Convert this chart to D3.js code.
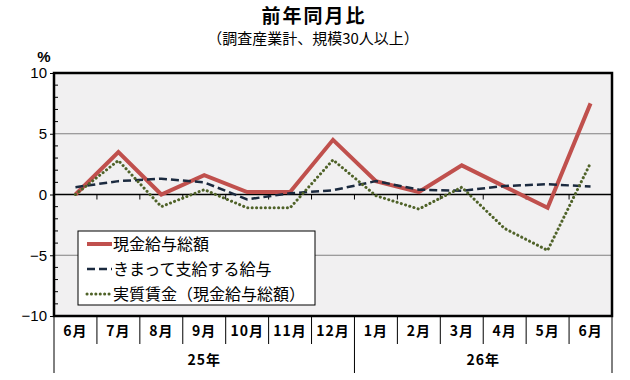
<!DOCTYPE html>
<html>
<head>
<meta charset="utf-8">
<script src="https://cdn.jsdelivr.net/npm/d3@7"></script>
<style>
  body { margin: 0; background: #fff; }
  text { font-family: "Noto Sans CJK JP", "Liberation Sans", sans-serif; }
</style>
</head>
<body>
<div id="container"></div>
<script>
// months (25年6月 .. 26年6月)
var months = ['6月', '7月', '8月', '9月', '10月', '11月', '12月', '1月', '2月', '3月', '4月', '5月', '6月'];
var years = [{ label: '25年', from: 0, to: 7 }, { label: '26年', from: 7, to: 13 }];
var totalPay = [0, 3.5, 0, 1.6, 0.2, 0.2, 4.5, 1.1, 0.2, 2.4, 0.65, -1.1, 7.5];
var regularPay = [0.6, 1.1, 1.3, 1.0, -0.4, 0.1, 0.35, 1.1, 0.4, 0.3, 0.7, 0.85, 0.65];
var realWage = [0, 2.8, -1.0, 0.4, -1.1, -1.1, 2.85, -0.1, -1.2, 0.6, -2.8, -4.6, 2.6];
var yTicks = [10, 5, 0, -5, -10];

var series = [
  { name: '現金給与総額', values: totalPay, color: '#c0504d', width: 4, dash: null },
  { name: 'きまって支給する給与', values: regularPay, color: '#1b2a3f', width: 2.5, dash: '8,4' },
  { name: '実質賃金（現金給与総額）', values: realWage, color: '#4f6228', width: 3, dash: '0.1,4.3' }
];

var W = 630, H = 380;
var pLeft = 54, pRight = 612, pTop = 73, pBottom = 316;

var svg = d3.select('#container').append('svg')
  .attr('width', W).attr('height', H);

var x = d3.scaleBand().domain(d3.range(months.length)).range([pLeft, pRight]);
var y = d3.scaleLinear().domain([-10, 10]).range([pBottom, pTop]);

// title
svg.append('text').attr('x', 314).attr('y', 23).attr('text-anchor', 'middle')
  .style('font-size', '19px').style('font-weight', 'bold').style('letter-spacing', '2px')
  .text('前年同月比');
svg.append('text').attr('x', 313).attr('y', 44).attr('text-anchor', 'middle')
  .style('font-size', '15px').text('（調査産業計、規模30人以上）');

// plot background
svg.append('rect').attr('x', pLeft).attr('y', pTop)
  .attr('width', pRight - pLeft).attr('height', pBottom - pTop)
  .attr('fill', '#f1f0f1');

// gridlines at ±5
svg.selectAll('.grid').data([5, -5]).enter().append('line')
  .attr('x1', pLeft).attr('x2', pRight)
  .attr('y1', function (d) { return y(d); }).attr('y2', function (d) { return y(d); })
  .attr('stroke', '#808080').attr('stroke-width', 1);

// minor ticks (inside)
svg.selectAll('.minor').data(d3.range(-10, 11).filter(function (d) { return d % 5; }))
  .enter().append('line')
  .attr('x1', pLeft).attr('x2', pLeft + 4)
  .attr('y1', function (d) { return y(d); }).attr('y2', function (d) { return y(d); })
  .attr('stroke', '#000').attr('stroke-width', 1);

// y axis labels
var yAxis = d3.axisLeft(y).tickValues(yTicks).tickSize(4).tickFormat(function (d) { return d < 0 ? '−' + (-d) : d; });
var ya = svg.append('g').attr('transform', 'translate(' + pLeft + ',0)').call(yAxis);
ya.select('.domain').remove();
ya.selectAll('line').attr('stroke', '#000');
ya.selectAll('text').attr('x', -7).style('font-size', '15px')
  .style('font-family', '"Liberation Sans", sans-serif').attr('fill', '#000');
svg.append('text').attr('x', 44).attr('y', 62).attr('text-anchor', 'middle')
  .style('font-size', '15px').style('font-weight', 'bold')
  .style('font-family', '"Liberation Sans", sans-serif').text('%');

// zero line + category ticks
svg.append('line').attr('x1', pLeft).attr('x2', pRight).attr('y1', y(0)).attr('y2', y(0))
  .attr('stroke', '#000').attr('stroke-width', 1.5);
svg.selectAll('.ztick').data(d3.range(1, months.length)).enter().append('line')
  .attr('x1', function (d) { return x(d); }).attr('x2', function (d) { return x(d); })
  .attr('y1', y(0)).attr('y2', y(0) + 5)
  .attr('stroke', '#000').attr('stroke-width', 1);

// lines
var line = d3.line()
  .x(function (d, i) { return x(i) + x.bandwidth() / 2; })
  .y(function (d) { return y(d); });

series.forEach(function (s) {
  svg.append('path').datum(s.values)
    .attr('d', line)
    .attr('fill', 'none')
    .attr('stroke', s.color)
    .attr('stroke-width', s.width)
    .attr('stroke-linecap', s.dash && s.width === 3 ? 'round' : 'butt')
    .attr('stroke-linejoin', 'miter')
    .attr('stroke-dasharray', s.dash);
});

// plot frame
svg.append('rect').attr('x', pLeft).attr('y', pTop)
  .attr('width', pRight - pLeft).attr('height', pBottom - pTop)
  .attr('fill', 'none').attr('stroke', '#000').attr('stroke-width', 2.5);

// category axis table
var rowBottom = 344, tableBottom = 373;
svg.selectAll('.sep').data(d3.range(0, months.length + 1)).enter().append('line')
  .attr('x1', function (d) { return d === months.length ? pRight : x(d); })
  .attr('x2', function (d) { return d === months.length ? pRight : x(d); })
  .attr('y1', pBottom)
  .attr('y2', function (d) { return (d === 0 || d === 7 || d === months.length) ? tableBottom : rowBottom; })
  .attr('stroke', '#000').attr('stroke-width', 1);

svg.selectAll('.mlabel').data(months).enter().append('text')
  .attr('x', function (d, i) { return x(i) + x.bandwidth() / 2; })
  .attr('y', 336).attr('text-anchor', 'middle')
  .style('font-size', '14px').style('font-weight', 'bold').style('letter-spacing', '1px')
  .text(function (d) { return d; });

svg.selectAll('.ylabel').data(years).enter().append('text')
  .attr('x', function (d) { return (x(d.from) + (d.to === months.length ? pRight : x(d.to))) / 2; })
  .attr('y', 365).attr('text-anchor', 'middle')
  .style('font-size', '14px').style('font-weight', 'bold').style('letter-spacing', '1px')
  .text(function (d) { return d.label; });

// legend
var lg = svg.append('g').attr('transform', 'translate(78,231)');
lg.append('rect').attr('width', 237).attr('height', 74)
  .attr('fill', '#fff').attr('stroke', '#000').attr('stroke-width', 1);
var item = lg.selectAll('.item').data(series).enter().append('g')
  .attr('transform', function (d, i) { return 'translate(0,' + (13 + i * 25) + ')'; });
item.append('line').attr('x1', 9).attr('x2', 34).attr('y1', 0).attr('y2', 0)
  .attr('stroke', function (d) { return d.color; })
  .attr('stroke-width', function (d) { return d.width; })
  .attr('stroke-linecap', function (d) { return d.width === 3 ? 'round' : 'butt'; })
  .attr('stroke-dasharray', function (d) { return d.dash; });
item.append('text').attr('x', 35).attr('y', 6)
  .style('font-size', '16px')
  .text(function (d) { return d.name; });
</script>
</body>
</html>
